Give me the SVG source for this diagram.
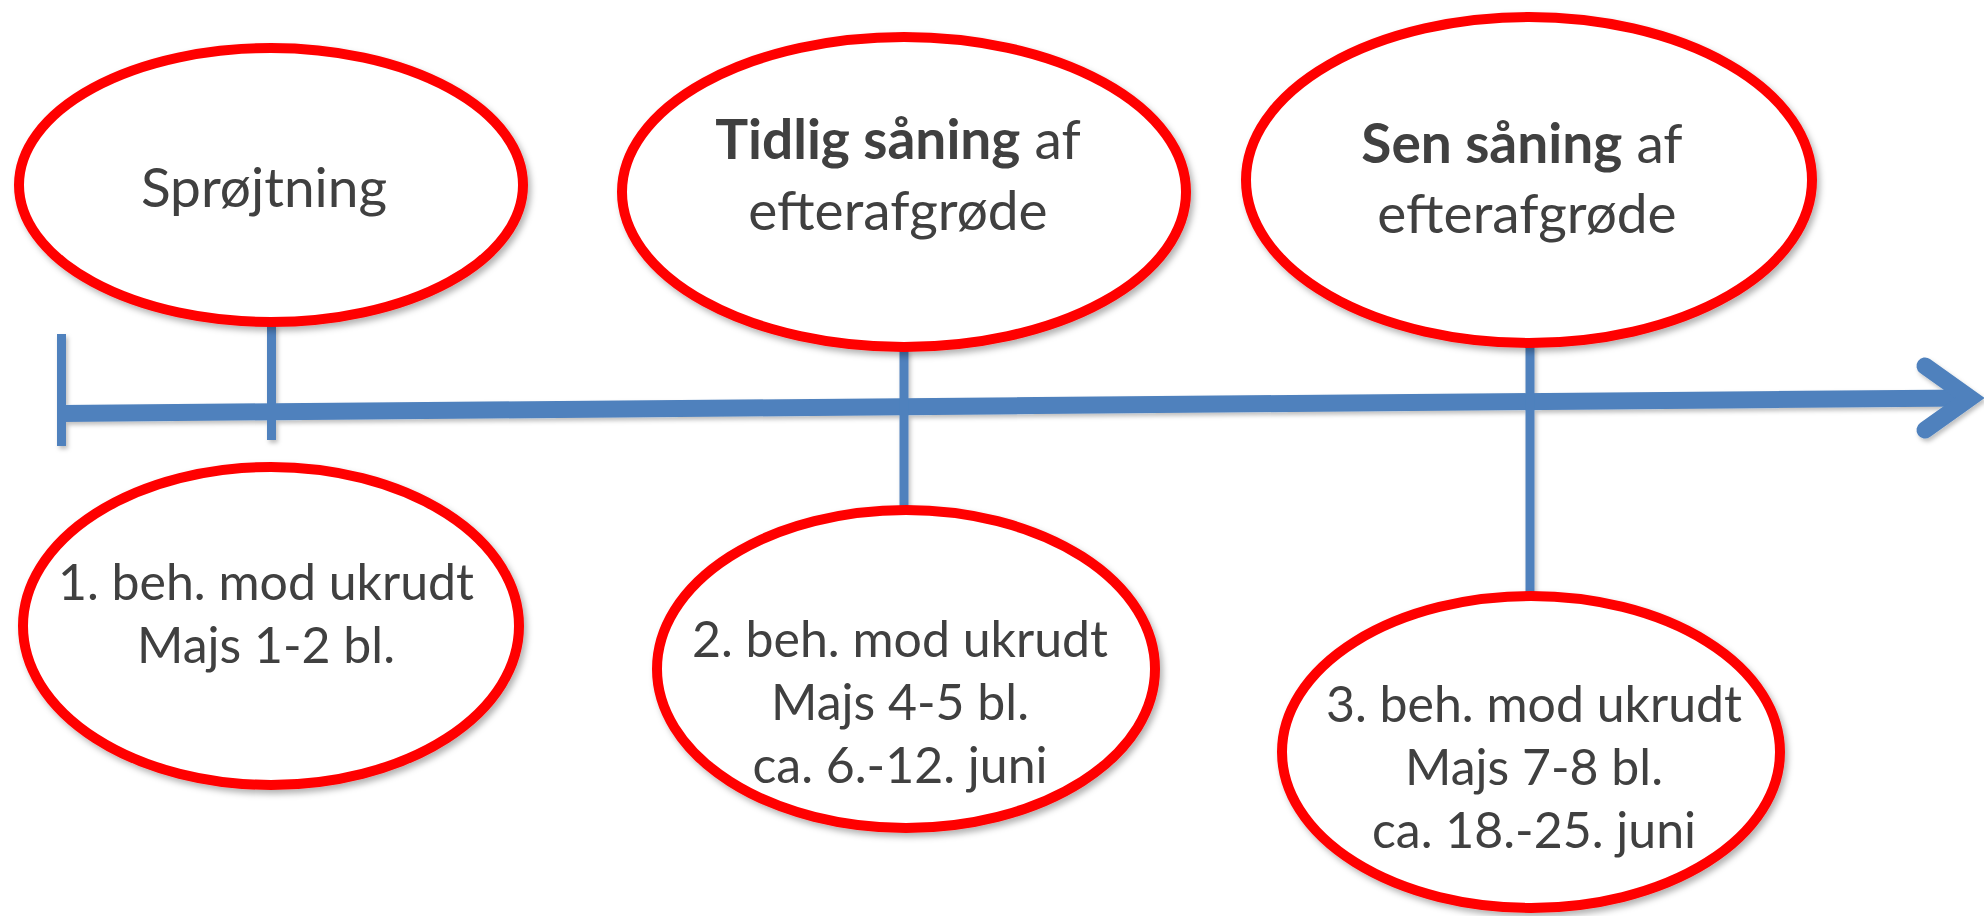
<svg xmlns="http://www.w3.org/2000/svg" width="1984" height="916" viewBox="0 0 1984 916">
<defs>
<style>
.bubble{fill:#fff;stroke:#ff0000;stroke-width:10;filter:url(#sh)}
.axis{fill:none;stroke:#4f81bd;stroke-width:17;stroke-linecap:butt}
.tick{fill:none;stroke:#4f81bd;stroke-width:9}
.head{fill:none;stroke:#4f81bd;stroke-width:17;stroke-linecap:round;stroke-linejoin:miter}
.t{font-family:Lato,"Open Sans","Liberation Sans",sans-serif;fill:#404040;text-anchor:middle}
.big{font-size:55px}
.small{font-size:50px}
.b{font-weight:700}
</style>
<filter id="sh" x="-10%" y="-10%" width="125%" height="130%">
<feDropShadow dx="3" dy="4" stdDeviation="3" flood-color="#000" flood-opacity="0.3"/>
</filter>
<filter id="lsh" x="-5%" y="-50%" width="110%" height="200%">
<feDropShadow dx="2" dy="3" stdDeviation="2" flood-color="#000" flood-opacity="0.25"/>
</filter>
</defs>
<rect width="1984" height="916" fill="#fff"/>
<g id="connectors" filter="url(#lsh)">
<line class="axis" x1="61" y1="413.5" x2="1968" y2="398"/>
<polyline class="head" points="1925,366 1970,398 1925,430"/>
<line class="tick" x1="61.5" y1="334" x2="61.5" y2="446"/>
<line class="tick" x1="271.5" y1="325" x2="271.5" y2="440"/>
<line class="tick" x1="904" y1="349" x2="904" y2="506"/>
<line class="tick" x1="1530" y1="345" x2="1530" y2="594"/>
</g>
<g id="node-sprojtning">
<ellipse class="bubble" cx="271" cy="185" rx="252" ry="137"/>
<text class="t big" x="264" y="207">Sprøjtning</text>
</g>
<g id="node-tidlig">
<ellipse class="bubble" cx="904" cy="192" rx="282" ry="155"/>
<text class="t big" x="898" y="159"><tspan class="b">Tidlig såning</tspan> af</text>
<text class="t big" x="898" y="230">efterafgrøde</text>
</g>
<g id="node-sen">
<ellipse class="bubble" cx="1529" cy="180" rx="283" ry="163"/>
<text class="t big" x="1522" y="163"><tspan class="b">Sen såning</tspan> af</text>
<text class="t big" x="1527" y="233">efterafgrøde</text>
</g>
<g id="node-beh1">
<ellipse class="bubble" cx="271" cy="626" rx="248" ry="159"/>
<text class="t small" x="266" y="600">1. beh. mod ukrudt</text>
<text class="t small" x="266" y="663">Majs 1-2 bl.</text>
</g>
<g id="node-beh2">
<ellipse class="bubble" cx="906" cy="669" rx="249" ry="159"/>
<text class="t small" x="900" y="657">2. beh. mod ukrudt</text>
<text class="t small" x="900" y="720">Majs 4-5 bl.</text>
<text class="t small" x="900" y="783">ca. 6.-12. juni</text>
</g>
<g id="node-beh3">
<ellipse class="bubble" cx="1531" cy="752" rx="249" ry="156"/>
<text class="t small" x="1534" y="722">3. beh. mod ukrudt</text>
<text class="t small" x="1534" y="785">Majs 7-8 bl.</text>
<text class="t small" x="1534" y="848">ca. 18.-25. juni</text>
</g>
</svg>
